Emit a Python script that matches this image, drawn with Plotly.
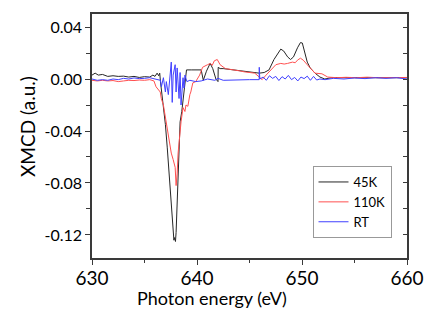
import plotly.graph_objects as go

# ---------------- data ----------------
x_45k = [630.0, 630.3, 630.6, 631.0, 631.5, 632.0, 632.5, 633.0, 633.5, 634.0, 634.5, 635.0,
         635.5, 635.8, 636.0, 636.2, 636.35, 636.45, 636.52, 636.8, 636.99, 637.17, 637.36,
         637.55, 637.73, 637.8, 637.87, 637.95, 638.01, 638.11, 638.25, 638.39, 638.55,
         638.76, 639.0, 639.5, 640.0, 640.4, 640.6, 640.9, 641.25, 641.5, 641.8, 642.0,
         642.02, 642.2, 642.5, 643.0, 643.5, 644.0, 644.5, 645.0, 645.5, 645.93, 646.4,
         646.86, 647.33, 647.7, 647.98, 648.26, 648.63, 648.91, 649.19, 649.57, 649.85,
         650.03, 650.22, 650.5, 650.78, 651.24, 651.71, 652.17, 652.83, 653.57, 654.5,
         655.5, 656.5, 657.5, 658.5, 659.3, 660.0]
y_45k = [0.003, 0.0045, 0.003, 0.0035, 0.002, 0.0025, 0.002, 0.0022, 0.0015, 0.002, 0.0012, 0.0018,
         0.0015, 0.003, 0.002, 0.0045, 0.0025, 0.0045, -0.002, -0.02, -0.035, -0.053, -0.075,
         -0.097, -0.118, -0.124, -0.122, -0.125, -0.118, -0.097, -0.066, -0.033, -0.025,
         -0.01, 0.007, 0.007, 0.0072, 0.007, -0.001, 0.006, 0.012, 0.008, 0.0, -0.002,
         0.009, 0.008, 0.008, 0.0075, 0.007, 0.0065, 0.006, 0.005, 0.0045, 0.0045, 0.005,
         0.007, 0.015, 0.02, 0.023, 0.0215, 0.017, 0.015, 0.017, 0.024, 0.028,
         0.0277, 0.021, 0.013, 0.0085, 0.0045, 0.0015, 0.0, 0.001, 0.001, 0.0012,
         0.0008, 0.0012, 0.0009, 0.0011, 0.0008, 0.001]

x_110k = [630.0, 630.5, 631.0, 631.5, 632.0, 632.5, 633.0, 633.5, 634.0, 634.5, 635.0, 635.5,
          635.9, 636.1, 636.5, 636.6, 636.8, 636.99, 637.08, 637.27, 637.45, 637.55, 637.73,
          637.92, 638.01, 638.11, 638.2, 638.29, 638.39, 638.48, 638.67, 638.85, 638.95,
          639.13, 639.32, 639.41, 639.6, 639.88, 640.25, 640.53, 641.0, 641.28, 641.45,
          641.65, 641.93, 642.2, 642.7, 643.2, 643.6, 644.1, 644.5, 645.0, 645.5, 645.93,
          646.2, 646.58, 647.05, 647.51, 647.98, 648.3, 648.63, 649.1, 649.35, 649.57,
          649.85, 650.12, 650.5, 650.78, 651.24, 651.9, 652.45, 653.3, 654.2, 655.2, 656.2,
          657.2, 658.2, 659.2, 660.0]
y_110k = [-0.001, -0.0015, -0.001, -0.0015, -0.0012, -0.002, -0.0015, -0.001, -0.0012, -0.0008, -0.001, -0.0005,
          -0.0015, -0.006, -0.01, -0.015, -0.02, -0.029, -0.033, -0.041, -0.052, -0.057, -0.062,
          -0.068, -0.082, -0.073, -0.057, -0.047, -0.037, -0.033, -0.022, -0.025, -0.02,
          -0.021, -0.012, -0.01, -0.003, -0.002, 0.003, 0.009, 0.011, 0.012, 0.0105,
          0.014, 0.015, 0.011, 0.008, 0.0075, 0.007, 0.0062, 0.0055, 0.005, 0.0045, 0.0015,
          -0.0005, 0.003, 0.007, 0.011, 0.012, 0.0115, 0.012, 0.013, 0.0125, 0.0145,
          0.016, 0.0145, 0.011, 0.0085, 0.0045, 0.004, 0.0015, 0.001, 0.0013, 0.001, 0.0014,
          0.001, 0.0013, 0.0011, 0.0012]

x_rt = [630.0, 630.5, 631.0, 631.5, 632.0, 632.5, 633.0, 633.5, 634.0, 634.5, 635.0, 635.5,
        636.0, 636.4, 636.52, 636.61, 636.8, 636.99, 637.08, 637.27, 637.45, 637.55, 637.64,
        637.73, 637.92, 638.01, 638.11, 638.29, 638.39, 638.48, 638.67, 638.76, 638.85,
        639.04, 639.32, 639.88, 640.4, 641.0, 641.7, 642.0, 642.5, 643.0, 644.0, 645.0,
        645.92, 645.93, 645.98, 646.3, 646.6, 646.9, 647.2, 647.5, 647.8, 648.1, 648.4,
        648.7, 649.0, 649.3, 649.6, 649.9, 650.2, 650.5, 650.8, 651.1, 651.4, 651.7,
        652.2, 653.0, 654.0, 655.0, 656.0, 657.0, 658.0, 659.0, 660.0]
y_rt = [0.0, -0.001, -0.0005, -0.001, 0.0, -0.0005, 0.0005, 0.0, 0.0008, 0.0003, 0.0005, 0.001,
        0.0, -0.001, -0.001, -0.006, 0.001, -0.01, -0.002, -0.012, 0.003, 0.013, -0.018,
        0.003, 0.011, -0.01, 0.0085, -0.015, 0.005, -0.02, 0.001, -0.007, 0.003,
        -0.002, -0.001, -0.002, -0.0015, 0.0, -0.001, 0.0005, -0.001, -0.0008, -0.0006, -0.0005,
        -0.0005, 0.009, 0.0, 0.0015, -0.001, 0.0025, 0.0005, 0.002, -0.0012, 0.0018, 0.0,
        0.0028, -0.0005, 0.0012, -0.0015, 0.0015, 0.0003, 0.0022, -0.001, 0.002, -0.0008, 0.0,
        -0.0005, 0.0005, 0.0, 0.0008, 0.0003, 0.001, 0.0005, 0.001, 0.0]

series_names = ["45K", "110K", "RT"]
series_colors = ["#262626", "#ff5050", "#4040ff"]
series_axes = ["y", "y", "y2"]

y_tick_vals = [0.04, 0.0, -0.04, -0.08, -0.12]
y_tick_text = ["0.04", "0.00", "-0.04", "-0.08", "-0.12"]
y_minor_vals = [0.02, -0.02, -0.06, -0.10]
x_tick_vals = [630, 640, 650, 660]
x_minor_vals = [635, 645, 655]
x_range = [630, 660]
y_range = [-0.1377, 0.05]

FONT = "Lato, 'Open Sans', sans-serif"
AX = "#3a3a3a"

fig = go.Figure()
for xs, ys, name, col, ax in zip([x_45k, x_110k, x_rt], [y_45k, y_110k, y_rt],
                                 series_names, series_colors, series_axes):
    fig.add_trace(go.Scatter(x=xs, y=ys, mode="lines", name=name, yaxis=ax,
                             line=dict(color=col, width=1)))

fig.update_layout(
    width=436, height=313,
    margin=dict(l=92, r=22, t=14, b=55),
    paper_bgcolor="white", plot_bgcolor="white",
    font=dict(family=FONT, color="black"),
    showlegend=True,
    hovermode=False,
    legend=dict(x=0.70, y=0.377, xanchor="left", yanchor="top", traceorder="normal",
                bgcolor="white", bordercolor="#999999", borderwidth=1,
                font=dict(size=13, family=FONT), tracegroupgap=0, itemwidth=30),
    xaxis=dict(range=x_range, tickvals=x_tick_vals, ticks="outside", ticklen=5,
               tickcolor=AX, tickwidth=1, showline=True, linecolor=AX, linewidth=1.5,
               mirror=True, showgrid=False, zeroline=False, ticklabelstandoff=-3,
               tickfont=dict(size=19, family=FONT),
               minor=dict(tickvals=x_minor_vals, ticks="outside", ticklen=3,
                          tickcolor=AX, showgrid=False)),
    yaxis=dict(range=y_range, tickvals=y_tick_vals, ticktext=y_tick_text,
               ticks="outside", ticklen=5, tickcolor=AX, tickwidth=1,
               showline=True, linecolor=AX, linewidth=1.5, mirror=True,
               showgrid=False, zeroline=False, tickfont=dict(size=16, family=FONT),
               minor=dict(tickvals=y_minor_vals, ticks="outside",
                          ticklen=4, tickcolor=AX, showgrid=False)),
    yaxis2=dict(range=y_range, overlaying="y", side="right", tickvals=y_tick_vals,
                showticklabels=False, ticks="inside", ticklen=4, tickcolor=AX,
                showgrid=False, zeroline=False, showline=False,
                minor=dict(tickvals=y_minor_vals, ticks="inside",
                           ticklen=4, tickcolor=AX, showgrid=False)),
    annotations=[
        dict(text="Photon energy (eV)", xref="paper", yref="paper", x=0.382, y=0,
             yshift=-40, xanchor="center", yanchor="middle", showarrow=False,
             font=dict(size=18, family=FONT)),
        dict(text="XMCD (a.u.)", xref="paper", yref="paper", x=0, y=0.537,
             xshift=-64, xanchor="center", yanchor="middle", textangle=-90,
             showarrow=False, font=dict(size=19, family=FONT)),
    ],
)

fig.write_html("out.html", config={"displayModeBar": False},
               post_script="document.body.style.margin='0';document.body.style.padding='0';")
